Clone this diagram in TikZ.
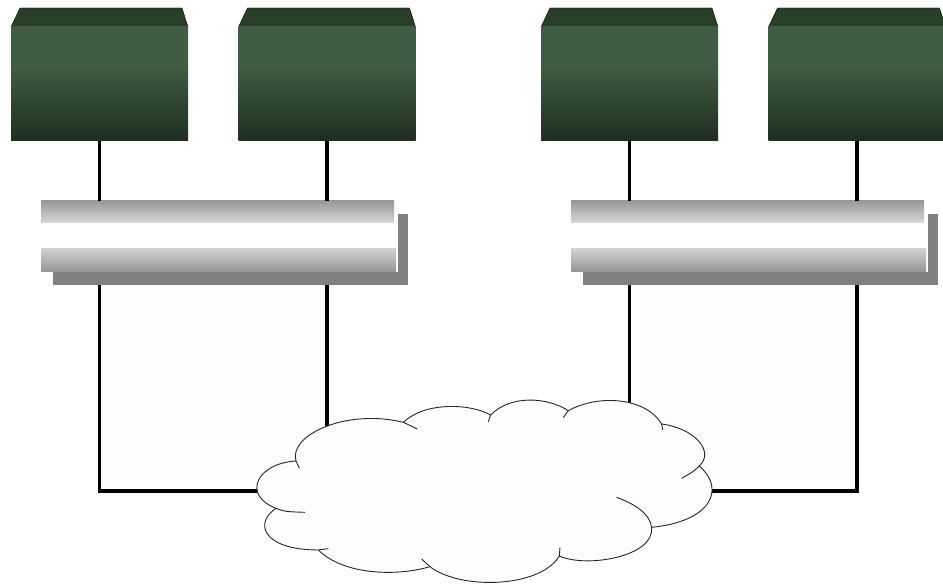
\documentclass[tikz,border=0pt]{standalone}
\usepackage{amsmath}
\usepackage{tikz}
\definecolor{srvtop}{HTML}{2A3F2A}
\definecolor{srvlt}{HTML}{405C42}
\definecolor{srvdk}{HTML}{1F2E1F}
\definecolor{lanfill}{HTML}{FBFEFB}
\pgfdeclareverticalshading{srvshade}{100bp}{color(0bp)=(srvdk); color(25bp)=(srvdk); color(58bp)=(srvlt); color(100bp)=(srvlt)}

\begin{document}
\begin{tikzpicture}[x=1pt,y=-1pt]
\tikzstyle{srv}= [rectangle, inner sep=0pt, minimum width=177pt, minimum height=114pt, shading=srvshade]
\tikzstyle{roof}= [fill=srvtop]
\tikzstyle{shadow}= [rectangle, inner sep=0pt, minimum width=355pt, minimum height=71pt, fill=gray]
\tikzstyle{gap}= [rectangle, inner sep=0pt, minimum width=357pt, minimum height=71pt, fill=white]
\tikzstyle{barup}= [rectangle, inner sep=0pt, minimum width=353pt, minimum height=22pt, top color=black!40, bottom color=black!15]
\tikzstyle{bardn}= [rectangle, inner sep=0pt, minimum width=355pt, minimum height=23pt, top color=black!18, bottom color=black!42]
\tikzstyle{wire}= [line width=3.2pt, black]
\tikzstyle{lan}= [wire, fill=lanfill, line join=miter]
\tikzstyle{edge}= [line width=0.9pt, draw=black!85]
\useasboundingbox (0,0) rectangle (943,585);
%1
\def\r{0};
\draw[roof] (11+\r,27) -- (20+\r,8) -- (182+\r,8) -- (188+\r,27) -- cycle;
\node[srv] (s1) at (99.5+\r,84) {};
%2
\def\r{227.5};
\draw[roof] (11+\r,27) -- (20+\r,8) -- (182+\r,8) -- (188+\r,27) -- cycle;
\node[srv] (s2) at (99.5+\r,84) {};
%3
\def\r{530};
\draw[roof] (11+\r,27) -- (20+\r,8) -- (182+\r,8) -- (188+\r,27) -- cycle;
\node[srv] (s3) at (99.5+\r,84) {};
%4
\def\r{757.5};
\draw[roof] (11+\r,27) -- (20+\r,8) -- (182+\r,8) -- (188+\r,27) -- cycle;
\node[srv] (s4) at (99.5+\r,84) {};
%left switch
\def\r{0};
\node[shadow] (h1) at (230.5+\r,249.5) {};
\node[gap] (g1) at (219.5+\r,236.5) {};
\node[barup] (u1) at (217.5+\r,212) {};
\node[bardn] (d1) at (218.5+\r,260.5) {};
\coordinate (c1) at (99.5+\r,491);
\coordinate (c2) at (327+\r,491);
\draw[wire] (s1.south) -- (s1.south |- u1.north);
\draw[wire] (s2.south) -- (s2.south |- u1.north);
\draw[lan] (s1.south |- h1.south) -- (c1) -- (c2) -- (s2.south |- h1.south);
%right switch
\def\r{530};
\node[shadow] (h2) at (230.5+\r,249.5) {};
\node[gap] (g2) at (219.5+\r,236.5) {};
\node[barup] (u2) at (217.5+\r,212) {};
\node[bardn] (d2) at (218.5+\r,260.5) {};
\coordinate (c3) at (99.5+\r,491);
\coordinate (c4) at (327+\r,491);
\draw[wire] (s3.south) -- (s3.south |- u2.north);
\draw[wire] (s4.south) -- (s4.south |- u2.north);
\draw[lan] (s3.south |- h2.south) -- (c3) -- (c4) -- (s4.south |- h2.south);
%cloud
\begin{scope}[shift={(240,380)},x=0.3333pt,y=-0.3333pt]
\draw[edge, fill=lanfill] (168,243) .. controls (145,165) and (320,85) .. (490,127)
  .. controls (555,65) and (690,70) .. (752,105)
  .. controls (810,45) and (920,50) .. (985,92)
  .. controls (1080,40) and (1220,55) .. (1265,132)
  .. controls (1365,145) and (1425,215) .. (1378,258)
  .. controls (1460,330) and (1410,425) .. (1235,442)
  .. controls (1245,530) and (1040,565) .. (958,528)
  .. controls (900,625) and (660,630) .. (570,560)
  .. controls (470,590) and (310,585) .. (235,510)
  .. controls (70,510) and (40,430) .. (108,385)
  .. controls (5,345) and (50,250) .. (168,243) -- cycle;
\draw[edge] (490,127) -- (532,147);
\draw[edge] (752,105) -- (745,125);
\draw[edge] (985,92) -- (970,113);
\draw[edge] (1265,132) -- (1268,150);
\draw[edge] (1378,258) .. controls (1360,275) .. (1325,295);
\draw[edge] (1235,442) .. controls (1230,400) and (1180,370) .. (1130,352);
\draw[edge] (958,528) -- (960,503);
\draw[edge] (570,560) -- (545,537);
\draw[edge] (235,510) -- (265,506);
\draw[edge] (108,385) .. controls (135,395) .. (195,397);
\draw[edge] (168,243) -- (178,265);
\end{scope}
\end{tikzpicture}
\end{document}
